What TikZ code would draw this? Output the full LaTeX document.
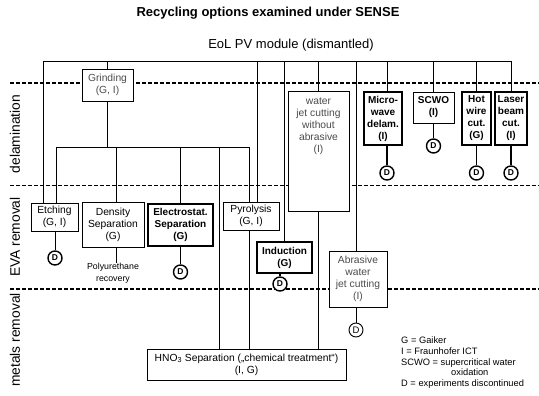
\documentclass[tikz,border=0pt]{standalone}
\usepackage{fontspec}
\setmainfont{Liberation Sans}
\begin{document}
\begin{tikzpicture}[x=1pt,y=-1pt,
  ln/.style={line width=0.9pt},
  thk/.style={line width=1.5pt},
  dsh/.style={line width=1.3pt, dash pattern=on 4pt off 2pt},
  box/.style={draw, line width=0.9pt, fill=white, inner sep=0pt, align=center, font=\fontsize{10.3}{12}\selectfont},
  bbox/.style={box, line width=1.5pt, font=\fontsize{10}{12}\selectfont\bfseries},
  gbox/.style={box, text=black!70},
  dc/.style={circle, draw, line width=1.4pt, minimum size=14pt, inner sep=0pt, fill=white, font=\fontsize{8.5}{9}\selectfont\bfseries},
  dct/.style={dc, line width=0.9pt, font=\fontsize{9.5}{9}\selectfont\mdseries},
  lab/.style={rotate=90, font=\fontsize{13.8}{15}\selectfont},
  note/.style={font=\fontsize{8.8}{12}\selectfont, align=center, inner sep=0pt}
]
\useasboundingbox (0,0) rectangle (539,396);
% dashed separators
\coordinate (d1a) at (10,83);  \coordinate (d1b) at (539,83);
\coordinate (d2a) at (10,185.5); \coordinate (d2b) at (539,185.5);
\coordinate (d3a) at (10,289); \coordinate (d3b) at (539,289);
\draw[dsh] (d1a) -- (d1b);
\draw[dsh] (d2a) -- (d2b);
\draw[dsh] (d3a) -- (d3b);

% titles
\node[font=\fontsize{13}{15}\selectfont\bfseries] (title) at (268,13) {Recycling options examined under SENSE};
\node[font=\fontsize{13}{15}\selectfont] (eol) at (291,45) {EoL PV module (dismantled)};

% row labels
\node[lab] (l1) at (15,134) {delamination};
\node[lab] (l2) at (15,237) {EVA removal};
\node[lab] (l3) at (15,340) {metals removal};

% boxes
\node[gbox, minimum width=51pt, minimum height=32pt] (grind) at (107.5,85) {Grinding\\(G, I)};
\node[gbox, minimum width=61pt, minimum height=120pt] (wjet) at (318.5,151)
  {\parbox[c][120pt][t]{60pt}{\centering\rule{0pt}{13pt}water\\jet cutting\\without\\abrasive\\(I)}};
\node[bbox, minimum width=38pt, minimum height=53pt] (micro) at (383,118.5) {Micro-\\wave\\delam.\\(I)};
\node[box, font=\fontsize{10}{12}\selectfont\bfseries, minimum width=41pt, minimum height=31pt] (scwo) at (433.5,107.5) {SCWO\\(I)};
\node[bbox, minimum width=29pt, minimum height=53pt] (hot) at (476.5,118.5) {Hot\\wire\\cut.\\(G)};
\node[bbox, minimum width=32pt, minimum height=53pt] (laser) at (511,118.5) {Laser\\beam\\cut.\\(I)};
\node[box, minimum width=47pt, minimum height=28pt] (etch) at (54.5,217) {Etching\\(G, I)};
\node[box, minimum width=62pt, minimum height=45pt] (dens) at (113,224.5) {Density\\Separation\\(G)};
\node[bbox, minimum width=65pt, minimum height=42pt] (elec) at (180.5,225) {Electrostat.\\Separation\\(G)};
\node[box, minimum width=56pt, minimum height=28pt] (pyro) at (251,216) {Pyrolysis\\(G, I)};
\node[bbox, minimum width=55pt, minimum height=31pt] (ind) at (284.5,257.5) {Induction\\(G)};
\node[gbox, minimum width=58pt, minimum height=56pt] (abr) at (358,279) {Abrasive\\water\\jet cutting\\(I)};
\node[box, minimum width=199pt, minimum height=31pt] (hno) at (246.5,364.5) {HNO\textsubscript{3} Separation („chemical treatment“)\\(I, G)};

% D circles
\node[dc] (dEtch) at (55,258) {D};
\node[dc] (dElec) at (180.5,272) {D};
\node[dc] (dInd) at (280,284) {D};
\node[dct] (dAbr) at (356,330) {D};
\node[dc] (dMicro) at (387,173) {D};
\node[dc] (dScwo) at (433.5,146) {D};
\node[dc] (dHot) at (476.5,173) {D};
\node[dc] (dLaser) at (511,173) {D};

% notes
\node[note] (pu) at (113,273) {Polyurethane\\recovery};
\node[anchor=north west, align=left, inner sep=0pt, font=\fontsize{9.3}{10.6}\selectfont] (leg) at (401,337)
  {G = Gaiker\\I = Fraunhofer ICT\\SCWO = supercritical water\\\hspace*{50pt}oxidation\\D = experiments discontinued};

% top distribution line
\coordinate (T) at (43,61);
\coordinate (Tr) at (511,61);
\coordinate (tp) at (257,61);
\coordinate (ti) at (284,61);
\coordinate (ta) at (356,61);
\coordinate (tm) at (387,61);
\draw[ln] (T) -- (Tr);
\draw[ln] (T) -- (T |- etch.north);
\draw[ln] (grind.north |- T) -- (grind.north);
\draw[ln] (tp) -- (tp |- pyro.north);
\draw[ln] (ti) -- (ti |- ind.north);
\draw[ln] (wjet.north |- T) -- (wjet.north);
\draw[ln] (ta) -- (ta |- abr.north);
\draw[ln] (tm) -- (tm |- micro.north);
\draw[ln] (scwo.north |- T) -- (scwo.north);
\draw[ln] (hot.north |- T) -- (hot.north);
\draw[ln] (Tr) -- (laser.north);

% branch below grinding
\coordinate (B1) at (56,147);
\coordinate (Bd) at (116,147);
\coordinate (Bh) at (219,147);
\coordinate (B2) at (249,147);
\draw[ln] (grind.south) -- (grind.south |- B1);
\draw[ln] (B1) -- (B2);
\draw[ln] (B1) -- (B1 |- etch.north);
\draw[ln] (Bd) -- (Bd |- dens.north);
\draw[ln] (elec.north |- B1) -- (elec.north);
\draw[ln] (Bh) -- (Bh |- hno.north);
\draw[ln] (B2) -- (B2 |- pyro.north);
\draw[ln] (B2 |- pyro.south) -- (B2 |- hno.north);
\draw[ln] (wjet.south) -- (wjet.south |- hno.north);

% to D circles / notes
\draw[ln] (etch.south -| dEtch) -- (dEtch);
\draw[ln] (Bd |- dens.south) -- (Bd |- pu.north);
\draw[thk] (elec.south) -- (dElec);
\draw[thk] (ind.south -| dInd) -- (dInd);
\draw[ln] (abr.south -| dAbr) -- (dAbr);
\draw[thk] (micro.south -| dMicro) -- (dMicro);
\draw[ln] (scwo.south) -- (dScwo);
\draw[thk] (hot.south) -- (dHot);
\draw[thk] (laser.south) -- (dLaser);
\end{tikzpicture}
\end{document}
